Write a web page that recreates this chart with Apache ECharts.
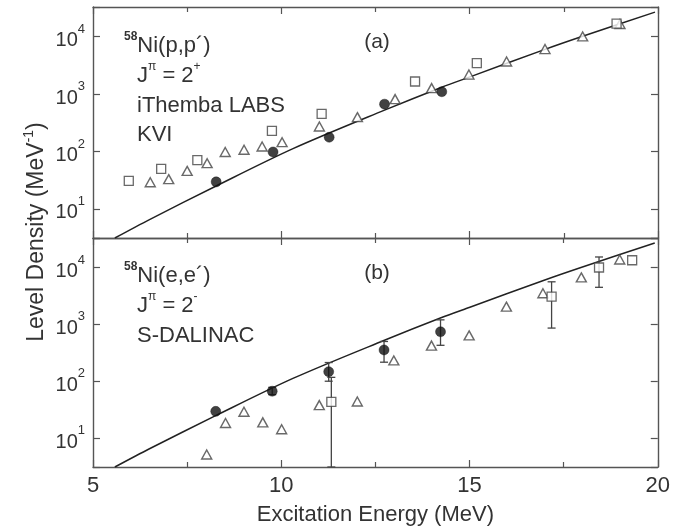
<!DOCTYPE html>
<html><head><meta charset="utf-8">
<script src="https://cdn.jsdelivr.net/npm/echarts@6/dist/echarts.min.js"></script>
<style>html,body{margin:0;padding:0;background:#fff}#c{width:673px;height:527px}</style>
</head><body><div id="c"></div>
<script>
// tick labels
const xTickLabels = [5, 10, 15, 20];
const yTickLabels = [10, 100, 1000, 10000];
// theory curve (same in both panels)
const curve = [[5.58, 3.1], [6.5, 6.5], [8.27, 25], [10.31, 112], [12.74, 525], [14.26, 1320], [15.01, 2000], [17.0, 6030], [18.0, 10200], [19.92, 26900]];
// panel (a) 58Ni(p,p')
const aCircles = [[8.27, 29.5], [9.78, 98], [11.27, 177], [12.74, 668], [14.26, 1100]];
const aSquares = [[5.95, 30.7], [6.81, 49.7], [7.77, 70.5], [9.75, 229], [11.07, 453], [13.55, 1660], [15.19, 3475], [18.90, 16900]];
const aTriangles = [[6.52, 29.1], [7.01, 32.9], [7.50, 45.8], [8.03, 62.5], [8.51, 98], [9.01, 107], [9.49, 122], [10.02, 145], [11.01, 272], [12.02, 397], [13.02, 818], [13.99, 1273], [14.98, 2190], [15.98, 3706], [17.0, 6100], [18.0, 10120], [18.99, 16700]];
// panel (b) 58Ni(e,e')
const bCircles = [[8.26, 29.5], [9.76, 66.7], [11.26, 147], [12.73, 355], [14.23, 740]];
const bCircErr = [[9.76, 58, 78], [11.26, 100, 213], [12.73, 216, 500], [14.23, 428, 1200]];
const bSquares = [[11.33, 43.4], [17.18, 3070], [18.44, 10000], [19.32, 13400]];
const bSqErr = [[11.33, 3.1, 117], [17.18, 860, 5600], [18.44, 4480, 15300]];
const bTriangles = [[8.02, 5.15], [8.52, 18.4], [9.01, 29], [9.51, 18.9], [10.01, 14.3], [11.01, 38], [12.02, 44], [12.99, 232], [13.99, 423], [14.99, 640], [15.98, 2050], [16.95, 3520], [17.97, 6690], [18.99, 13800]];

const FONT = '"Liberation Sans", Arial, Helvetica, sans-serif';
const TXT = '#333';
const FRAME = '#555';
const chart = echarts.init(document.getElementById('c'), null, {renderer: 'canvas'});

function isTick(list, v) { return list.some(t => Math.abs(t - v) / t < 1e-6); }

function xAxisDef(grid, pos, labels) {
  return {
    gridIndex: grid, type: 'value', position: pos, min: 5, max: 20, interval: 5,
    axisLine: {show: true, onZero: false, lineStyle: {color: FRAME, width: 1.4}},
    axisTick: {show: true, inside: true, length: 7, lineStyle: {color: FRAME, width: 1.2}},
    minorTick: {show: true, splitNumber: 2, length: 5, lineStyle: {color: FRAME, width: 1.2}},
    splitLine: {show: false}, minorSplitLine: {show: false},
    axisLabel: {show: labels, margin: 8, fontFamily: FONT, fontSize: 22, color: TXT,
      formatter: v => isTick(xTickLabels, v) ? String(v) : ''},
    name: labels ? 'Excitation Energy (MeV)' : '', nameLocation: 'middle', nameGap: 37,
    nameTextStyle: {fontFamily: FONT, fontSize: 22, color: TXT}
  };
}
function yAxisDef(grid, pos, labels) {
  return {
    gridIndex: grid, type: 'log', logBase: 10, position: pos, min: 3.1, max: 33000,
    axisLine: {show: true, onZero: false, lineStyle: {color: FRAME, width: 1.4}},
    axisTick: {show: true, inside: true, length: 7, lineStyle: {color: FRAME, width: 1.2}},
    splitLine: {show: false}, minorTick: {show: false},
    axisLabel: {show: labels, margin: 8, fontFamily: FONT, color: TXT,
      formatter: v => isTick(yTickLabels, v) ? '{b|10}{s|' + Math.round(Math.log10(v)) + '}' : '',
      rich: {
        b: {fontFamily: FONT, fontSize: 20, color: TXT, lineHeight: 28, verticalAlign: 'bottom'},
        s: {fontFamily: FONT, fontSize: 13, color: TXT, lineHeight: 28, verticalAlign: 'top'}
      }}
  };
}

function errRender(params, api) {
  const x = api.value(0), lo = api.value(1), hi = api.value(2);
  const p1 = api.coord([x, lo]), p2 = api.coord([x, hi]);
  const w = 4;
  const st = {stroke: '#444', lineWidth: 1.3, fill: null};
  return {type: 'group', children: [
    {type: 'line', shape: {x1: p1[0], y1: p1[1], x2: p2[0], y2: p2[1]}, style: st},
    {type: 'line', shape: {x1: p1[0] - w, y1: p1[1], x2: p1[0] + w, y2: p1[1]}, style: st},
    {type: 'line', shape: {x1: p2[0] - w, y1: p2[1], x2: p2[0] + w, y2: p2[1]}, style: st}
  ]};
}

const triStyle = {color: '#fff', borderColor: '#444', borderWidth: 1.4};
const sqStyle = {color: '#fff', borderColor: '#444', borderWidth: 1.3};
const circStyle = {color: '#111', borderColor: '#111', borderWidth: 0.5};

function lineSeries(ax) {
  return {type: 'line', xAxisIndex: ax, yAxisIndex: ax, data: curve, showSymbol: false, smooth: 0.3,
    lineStyle: {color: '#222', width: 1.5}, z: 2, silent: true};
}
function scatter(ax, data, symbol, size, style) {
  return {type: 'scatter', xAxisIndex: ax, yAxisIndex: ax, data: data, symbol: symbol, symbolSize: size,
    itemStyle: style, z: 4, silent: true};
}
function errSeries(ax, data) {
  return {type: 'custom', xAxisIndex: ax, yAxisIndex: ax, data: data, renderItem: errRender,
    encode: {x: 0, y: [1, 2]}, z: 3, silent: true};
}

const richLbl = {
  n: {fontFamily: FONT, fontSize: 22, color: TXT, lineHeight: 26, verticalAlign: 'bottom'},
  s: {fontFamily: FONT, fontSize: 12, color: TXT, lineHeight: 26, verticalAlign: 'top'},
  sb: {fontFamily: FONT, fontSize: 12, fontWeight: 'bold', color: TXT, lineHeight: 26, verticalAlign: 'top'}
};
function label(t, x, y) {
  return {type: 'text', x: x, y: y, silent: true,
    style: {text: t, textAlign: 'left', textVerticalAlign: 'middle', fill: TXT, rich: richLbl}};
}

const option = {
  animation: false,
  backgroundColor: '#fff',
  grid: [
    {left: 93, top: 7, width: 565, height: 231},
    {left: 93, top: 238, width: 565, height: 230}
  ],
  xAxis: [xAxisDef(0, 'bottom', false), xAxisDef(0, 'top', false), xAxisDef(1, 'bottom', true), xAxisDef(1, 'top', false)],
  yAxis: [yAxisDef(0, 'left', true), yAxisDef(0, 'right', false), yAxisDef(1, 'left', true), yAxisDef(1, 'right', false)],
  series: [
    lineSeries(0),
    scatter(0, aTriangles, 'triangle', [10, 9], triStyle),
    scatter(0, aSquares, 'rect', 9, sqStyle),
    scatter(0, aCircles, 'circle', 10, circStyle),
    lineSeries(2),
    errSeries(2, bSqErr),
    errSeries(2, bCircErr),
    scatter(2, bTriangles, 'triangle', [10, 9], triStyle),
    scatter(2, bSquares, 'rect', 9, sqStyle),
    scatter(2, bCircles, 'circle', 10, circStyle)
  ],
  graphic: [
    label('{sb|58}{n|Ni(p,p´)}', 124, 44),
    label('{n|J}{s|π}{n| = 2}{s|+}', 137, 74),
    label('{n|iThemba LABS}', 137, 104),
    label('{n|KVI}', 137, 133),
    label('{sb|58}{n|Ni(e,e´)}', 124, 274),
    label('{n|J}{s|π}{n| = 2}{s|-}', 137, 304),
    label('{n|S-DALINAC}', 137, 334),
    {type: 'text', x: 377, y: 42, silent: true, style: {text: '(a)', textAlign: 'center', textVerticalAlign: 'middle', fill: TXT, font: '21px ' + FONT}},
    {type: 'text', x: 377, y: 273, silent: true, style: {text: '(b)', textAlign: 'center', textVerticalAlign: 'middle', fill: TXT, font: '21px ' + FONT}},
    {type: 'text', x: 35, y: 232, rotation: Math.PI / 2, silent: true,
      style: {text: '{n|Level Density (MeV}{s|-1}{n|)}', textAlign: 'center', textVerticalAlign: 'middle', fill: TXT,
        rich: {
          n: {fontFamily: FONT, fontSize: 23, color: TXT, lineHeight: 26, verticalAlign: 'bottom'},
          s: {fontFamily: FONT, fontSize: 14, color: TXT, lineHeight: 26, verticalAlign: 'top'}
        }}}
  ]
};
chart.setOption(option);
</script>
</body></html>
